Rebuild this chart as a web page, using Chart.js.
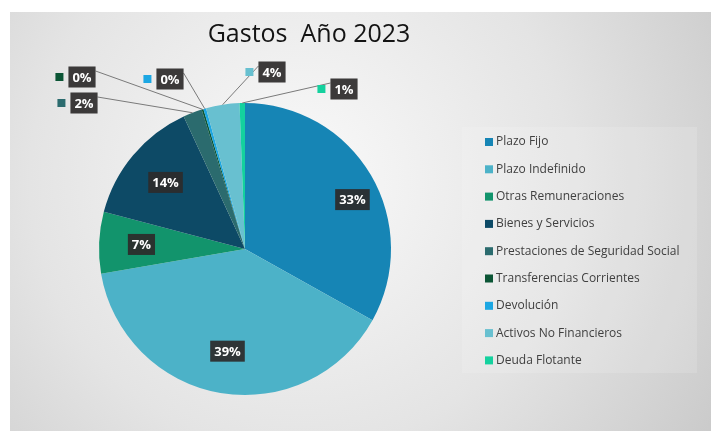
<!DOCTYPE html>
<html>
<head>
<meta charset="utf-8">
<script src="https://cdn.jsdelivr.net/npm/chart.js@4"></script>
<style>
  html, body { margin: 0; padding: 0; background: #fff; }
  #box { width: 711px; height: 431px; position: relative; }
</style>
</head>
<body>
<div id="box"><canvas id="graficoGastos" width="711" height="431"></canvas></div>
<script>
const categorias = ['Plazo Fijo', 'Plazo Indefinido', 'Otras Remuneraciones', 'Bienes y Servicios',
  'Prestaciones de Seguridad Social', 'Transferencias Corrientes', 'Devolución',
  'Activos No Financieros', 'Deuda Flotante'];
const porcentajes = [33.1, 39.2, 6.8, 14.0, 2.1, 0.2, 0.3, 3.7, 0.6];
const colores = ['#1685b5', '#4cb2c8', '#12946c', '#0d4a66', '#2b6b6e', '#0b5535', '#1ca7e3', '#68c0d0', '#14d19e'];
const titulo = 'Gastos  Año 2023';

// etiquetas fuera del pastel (indice -> centro de la caja)
const callouts = { 4: [84, 103], 5: [82, 77], 6: [170, 79], 7: [272, 72], 8: [344, 89] };

const fondoPlugin = {
  id: 'fondo',
  beforeDraw(chart) {
    const c = chart.ctx;
    c.save();
    c.fillStyle = '#ffffff';
    c.fillRect(0, 0, chart.width, chart.height);
    const g = c.createRadialGradient(300, 180, 20, 300, 180, 520);
    g.addColorStop(0, '#f8f8f8');
    g.addColorStop(0.5, '#e4e4e4');
    g.addColorStop(1, '#c6c6c6');
    c.fillStyle = g;
    c.fillRect(10, 12, chart.width - 10, chart.height - 12);
    c.fillStyle = 'rgba(255,255,255,0.14)';
    c.fillRect(462, 127, 235, 246);
    c.restore();
  }
};

function cajaEtiqueta(c, texto, x, y) {
  c.font = 'bold 13px "Open Sans", sans-serif';
  const w = c.measureText(texto).width + 8;
  const h = 21;
  c.fillStyle = 'rgba(45,42,42,0.92)';
  c.fillRect(x - w / 2, y - h / 2, w, h);
  c.fillStyle = '#ffffff';
  c.textAlign = 'center';
  c.textBaseline = 'middle';
  c.fillText(texto, x, y + 1);
  return w;
}

const etiquetasPlugin = {
  id: 'etiquetas',
  afterDraw(chart) {
    const c = chart.ctx;
    const meta = chart.getDatasetMeta(0);
    const total = porcentajes.reduce((a, b) => a + b, 0);
    c.save();

    // titulo
    c.fillStyle = '#141414';
    c.font = '25px "Open Sans", sans-serif';
    c.textAlign = 'center';
    c.textBaseline = 'alphabetic';
    c.fillText(titulo, 309, 42);

    meta.data.forEach((arc, i) => {
      const texto = Math.round(porcentajes[i] / total * 100) + '%';
      const mid = (arc.startAngle + arc.endAngle) / 2;
      if (callouts[i]) {
        const [lx, ly] = callouts[i];
        const ex = arc.x + Math.cos(mid) * arc.outerRadius;
        const ey = arc.y + Math.sin(mid) * arc.outerRadius;
        c.strokeStyle = '#7a7a7a';
        c.lineWidth = 1;
        c.beginPath();
        c.font = 'bold 13px "Open Sans", sans-serif';
        const w = c.measureText(texto).width + 8;
        const sx = ex < lx - w / 2 ? lx - w / 2 : lx + w / 2;
        c.moveTo(sx, ly - 6);
        c.lineTo(ex, ey);
        c.stroke();
        cajaEtiqueta(c, texto, lx, ly);
        c.fillStyle = colores[i];
        c.fillRect(lx - w / 2 - 13, ly - 4, 8, 8);
      } else {
        const f = i === 0 ? 0.81 : 0.71;
        const a = i === 0 ? mid + 0.1 : mid;
        const x = arc.x + Math.cos(a) * arc.outerRadius * f;
        const y = arc.y + Math.sin(a) * arc.outerRadius * f;
        cajaEtiqueta(c, texto, x, y);
      }
    });

    // leyenda
    c.font = '12px "Open Sans", sans-serif';
    c.textAlign = 'left';
    c.textBaseline = 'middle';
    categorias.forEach((cat, i) => {
      const y = 142 + i * 27.3;
      c.fillStyle = colores[i];
      c.fillRect(485, y - 4, 8, 8);
      c.fillStyle = '#404040';
      c.fillText(cat, 496, y);
    });
    c.restore();
  }
};

const ctx = document.getElementById('graficoGastos').getContext('2d');
const chart = new Chart(ctx, {
  type: 'pie',
  data: {
    labels: categorias,
    datasets: [{
      data: porcentajes,
      backgroundColor: colores,
      borderWidth: 0
    }]
  },
  options: {
    responsive: false,
    animation: false,
    layout: { padding: { left: 99, right: 320, top: 103, bottom: 36 } },
    plugins: {
      legend: { display: false },
      tooltip: { enabled: false }
    }
  },
  plugins: [fondoPlugin, etiquetasPlugin]
});
</script>
</body>
</html>
